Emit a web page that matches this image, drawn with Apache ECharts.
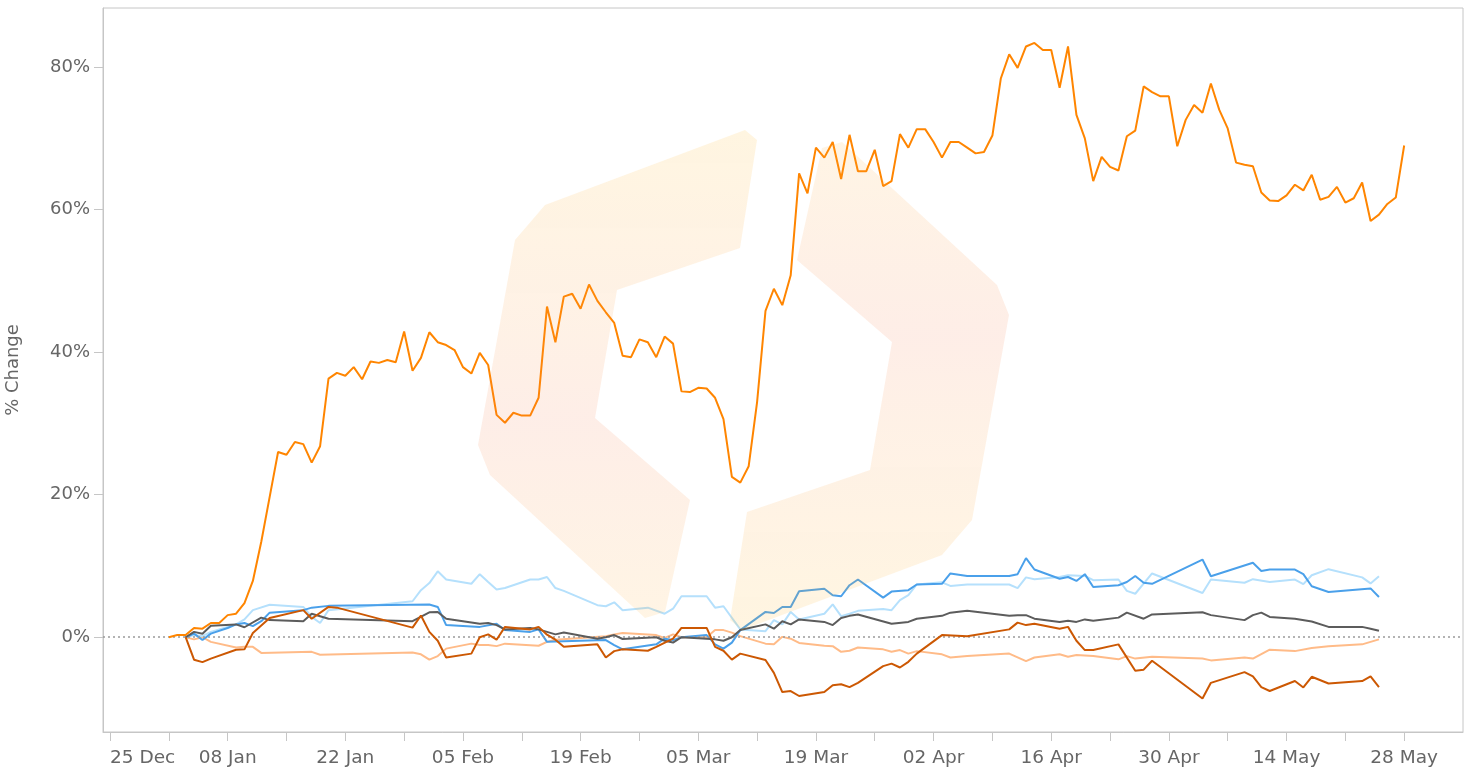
<!DOCTYPE html>
<html><head><meta charset="utf-8">
<script src="https://cdn.jsdelivr.net/npm/echarts@6/dist/echarts.min.js"></script>
<style>html,body{margin:0;padding:0;background:#fff}#c{width:1482px;height:769px}</style>
</head><body><div id="c"></div><script>
// ---------- DATA ----------
const xTickDates = ['2017-12-25','2018-01-01','2018-01-08','2018-01-15','2018-01-22','2018-01-29','2018-02-05','2018-02-12','2018-02-19','2018-02-26','2018-03-05','2018-03-12','2018-03-19','2018-03-26','2018-04-02','2018-04-09','2018-04-16','2018-04-23','2018-04-30','2018-05-07','2018-05-14','2018-05-21','2018-05-28'];
const xLabelDates = ['2017-12-25','2018-01-08','2018-01-22','2018-02-05','2018-02-19','2018-03-05','2018-03-19','2018-04-02','2018-04-16','2018-04-30','2018-05-14','2018-05-28'];
const monthNames = ['Jan','Feb','Mar','Apr','May','Jun','Jul','Aug','Sep','Oct','Nov','Dec'];
const yTickValues = [0, 20, 40, 60, 80];
const yAxisName = '% Change';

// daily series, starting 2018-01-01
const orangeStart = '2018-01-01';
const orangeValues = [0.0,0.3,0.3,1.3,1.2,2.0,2.0,3.1,3.3,4.8,7.9,13.4,19.7,26.0,25.6,27.4,27.1,24.5,26.8,36.3,
  37.1,36.7,37.9,36.2,38.7,38.5,38.9,38.6,42.9,37.4,39.2,42.8,41.4,41.0,40.3,37.9,37.0,39.9,38.2,31.2,
  30.1,31.5,31.1,31.1,33.6,46.4,41.4,47.8,48.2,46.1,49.5,47.2,45.6,44.1,39.5,39.3,41.8,41.4,39.3,42.2,
  41.2,34.5,34.4,35.0,34.9,33.6,30.6,22.5,21.7,24.0,33.0,45.8,48.9,46.6,50.8,65.1,62.3,68.7,67.3,69.5,
  64.3,70.5,65.4,65.4,68.4,63.3,64.0,70.6,68.7,71.3,71.3,69.5,67.3,69.5,69.5,68.7,67.9,68.1,70.4,78.4,
  81.8,79.9,82.9,83.4,82.4,82.4,77.1,82.9,73.3,70.0,64.0,67.4,66.0,65.5,70.3,71.1,77.3,76.5,75.9,75.9,
  68.9,72.6,74.7,73.6,77.7,74.0,71.4,66.6,66.3,66.1,62.4,61.3,61.2,62.0,63.5,62.7,64.9,61.4,61.8,63.2,
  61.0,61.6,63.8,58.4,59.3,60.8,61.7,69.0];

const grayData = [['2018-01-03',0],['2018-01-04',0.75],['2018-01-05',0.5],['2018-01-06',1.6],['2018-01-09',1.8],['2018-01-10',1.4],['2018-01-12',2.75],['2018-01-13',2.4],['2018-01-17',2.25],['2018-01-18',3.3],
  ['2018-01-20',2.6],['2018-01-30',2.25],['2018-02-01',3.5],['2018-02-02',3.55],['2018-02-03',2.6],['2018-02-07',1.9],['2018-02-08',2.0],['2018-02-09',1.7],['2018-02-10',1.1],['2018-02-13',1.3],
  ['2018-02-14',1.1],['2018-02-16',0.4],['2018-02-17',0.65],['2018-02-21',-0.2],['2018-02-22',0],['2018-02-23',0.3],['2018-02-24',-0.25],['2018-02-28',0],['2018-03-01',-0.5],['2018-03-02',-0.75],
  ['2018-03-03',0],['2018-03-07',-0.3],['2018-03-08',-0.5],['2018-03-09',0],['2018-03-10',1.0],['2018-03-13',1.8],['2018-03-14',1.2],['2018-03-15',2.25],['2018-03-16',1.8],['2018-03-17',2.5],
  ['2018-03-20',2.15],['2018-03-21',1.7],['2018-03-22',2.7],['2018-03-23',3.0],['2018-03-24',3.2],['2018-03-28',1.9],['2018-03-30',2.15],['2018-03-31',2.6],['2018-04-03',3.0],['2018-04-04',3.45],
  ['2018-04-06',3.7],['2018-04-11',3.0],['2018-04-12',3.1],['2018-04-13',3.1],['2018-04-14',2.6],['2018-04-17',2.15],['2018-04-18',2.3],['2018-04-19',2.15],['2018-04-20',2.5],['2018-04-21',2.3],
  ['2018-04-24',2.75],['2018-04-25',3.45],['2018-04-27',2.6],['2018-04-28',3.2],['2018-05-04',3.5],['2018-05-05',3.1],['2018-05-09',2.4],['2018-05-10',3.1],['2018-05-11',3.45],['2018-05-12',2.85],
  ['2018-05-15',2.6],['2018-05-17',2.2],['2018-05-19',1.45],['2018-05-23',1.45],['2018-05-24',1.2],['2018-05-25',0.9]];

const blueData = [['2018-01-03',0],['2018-01-04',0.5],['2018-01-05',-0.4],['2018-01-06',0.5],['2018-01-08',1.3],['2018-01-09',1.8],['2018-01-10',2.0],['2018-01-11',1.55],['2018-01-12',2.25],['2018-01-13',3.45],
  ['2018-01-17',3.8],['2018-01-18',4.15],['2018-01-20',4.4],['2018-02-01',4.6],['2018-02-02',4.25],['2018-02-03',1.7],['2018-02-07',1.45],['2018-02-09',1.9],['2018-02-10',1.0],['2018-02-13',0.75],
  ['2018-02-14',1.1],['2018-02-15',-0.65],['2018-02-22',-0.4],['2018-02-23',-1.1],['2018-02-24',-1.7],['2018-02-28',-1.0],['2018-03-01',-0.2],['2018-03-02',-0.4],['2018-03-03',0],['2018-03-06',0.3],
  ['2018-03-07',-1.0],['2018-03-08',-1.6],['2018-03-09',-0.75],['2018-03-10',1.0],['2018-03-13',3.55],['2018-03-14',3.4],['2018-03-15',4.25],['2018-03-16',4.25],['2018-03-17',6.45],['2018-03-20',6.8],
  ['2018-03-21',5.9],['2018-03-22',5.75],['2018-03-23',7.3],['2018-03-24',8.1],['2018-03-27',5.55],['2018-03-28',6.4],['2018-03-30',6.6],['2018-03-31',7.4],['2018-04-03',7.5],['2018-04-04',8.95],
  ['2018-04-06',8.6],['2018-04-11',8.6],['2018-04-12',8.85],['2018-04-13',11.1],['2018-04-14',9.5],['2018-04-17',8.2],['2018-04-18',8.45],['2018-04-19',7.9],['2018-04-20',8.85],['2018-04-21',7.05],
  ['2018-04-24',7.3],['2018-04-25',7.75],['2018-04-26',8.6],['2018-04-27',7.65],['2018-04-28',7.5],['2018-05-04',10.9],['2018-05-05',8.55],['2018-05-10',10.45],['2018-05-11',9.3],['2018-05-12',9.5],
  ['2018-05-15',9.5],['2018-05-16',8.85],['2018-05-17',7.15],['2018-05-19',6.35],['2018-05-24',6.85],['2018-05-25',5.65]];

const lightBlueData = [['2018-01-03',0],['2018-01-04',0.3],['2018-01-05',0.15],['2018-01-06',0.75],['2018-01-09',1.8],['2018-01-10',2.5],['2018-01-11',3.8],['2018-01-13',4.55],['2018-01-17',4.25],['2018-01-18',2.85],
  ['2018-01-19',2.0],['2018-01-20',3.8],['2018-01-30',5.05],['2018-01-31',6.6],['2018-02-01',7.6],['2018-02-02',9.25],['2018-02-03',8.1],['2018-02-06',7.5],['2018-02-07',8.85],['2018-02-08',7.75],
  ['2018-02-09',6.7],['2018-02-10',6.9],['2018-02-13',8.1],['2018-02-14',8.1],['2018-02-15',8.45],['2018-02-16',6.9],['2018-02-17',6.5],['2018-02-21',4.5],['2018-02-22',4.35],['2018-02-23',4.9],
  ['2018-02-24',3.8],['2018-02-27',4.15],['2018-03-01',3.3],['2018-03-02',4.0],['2018-03-03',5.75],['2018-03-06',5.75],['2018-03-07',4.15],['2018-03-08',4.35],['2018-03-10',1.1],['2018-03-13',0.85],
  ['2018-03-14',2.4],['2018-03-15',1.8],['2018-03-16',3.55],['2018-03-17',2.5],['2018-03-20',3.3],['2018-03-21',4.6],['2018-03-22',2.95],['2018-03-23',3.3],['2018-03-24',3.7],['2018-03-27',3.95],
  ['2018-03-28',3.8],['2018-03-29',5.2],['2018-03-30',5.9],['2018-03-31',7.4],['2018-04-03',7.7],['2018-04-04',7.2],['2018-04-06',7.4],['2018-04-11',7.4],['2018-04-12',6.9],['2018-04-13',8.4],
  ['2018-04-14',8.15],['2018-04-17',8.45],['2018-04-18',8.7],['2018-04-20',8.6],['2018-04-21',8.0],['2018-04-24',8.1],['2018-04-25',6.5],['2018-04-26',6.1],['2018-04-28',8.95],['2018-05-04',6.2],
  ['2018-05-05',8.1],['2018-05-09',7.65],['2018-05-10',8.15],['2018-05-12',7.75],['2018-05-15',8.1],['2018-05-16',7.45],['2018-05-17',8.7],['2018-05-19',9.55],['2018-05-23',8.4],['2018-05-24',7.55],
  ['2018-05-25',8.55]];

const brownData = [['2018-01-03',0],['2018-01-04',-3.15],['2018-01-05',-3.5],['2018-01-06',-3.0],['2018-01-09',-1.75],['2018-01-10',-1.7],['2018-01-11',0.6],['2018-01-13',2.7],['2018-01-17',3.8],['2018-01-18',2.6],
  ['2018-01-20',4.25],['2018-01-21',4.15],['2018-01-30',1.35],['2018-01-31',3.05],['2018-02-01',0.75],['2018-02-02',-0.5],['2018-02-03',-2.85],['2018-02-06',-2.3],['2018-02-07',0],['2018-02-08',0.4],
  ['2018-02-09',-0.35],['2018-02-10',1.45],['2018-02-13',1.1],['2018-02-14',1.45],['2018-02-15',0.35],['2018-02-16',-0.35],['2018-02-17',-1.35],['2018-02-21',-1.0],['2018-02-22',-2.85],['2018-02-23',-1.95],
  ['2018-02-24',-1.7],['2018-02-27',-1.9],['2018-02-28',-1.35],['2018-03-02',-0.2],['2018-03-03',1.3],['2018-03-06',1.3],['2018-03-07',-1.35],['2018-03-08',-1.9],['2018-03-09',-3.15],['2018-03-10',-2.3],
  ['2018-03-13',-3.2],['2018-03-14',-5.0],['2018-03-15',-7.7],['2018-03-16',-7.55],['2018-03-17',-8.25],['2018-03-20',-7.7],['2018-03-21',-6.75],['2018-03-22',-6.6],['2018-03-23',-7.0],['2018-03-24',-6.4],
  ['2018-03-27',-4.05],['2018-03-28',-3.7],['2018-03-29',-4.25],['2018-03-30',-3.45],['2018-03-31',-2.3],['2018-04-03',0.3],['2018-04-06',0.15],['2018-04-11',1.1],['2018-04-12',2.05],['2018-04-13',1.7],
  ['2018-04-14',1.9],['2018-04-17',1.2],['2018-04-18',1.45],['2018-04-19',-0.5],['2018-04-20',-1.8],['2018-04-21',-1.8],['2018-04-24',-1.0],['2018-04-26',-4.7],['2018-04-27',-4.55],['2018-04-28',-3.3],
  ['2018-05-04',-8.6],['2018-05-05',-6.4],['2018-05-09',-4.9],['2018-05-10',-5.5],['2018-05-11',-7.0],['2018-05-12',-7.55],['2018-05-15',-6.15],['2018-05-16',-7.05],['2018-05-17',-5.55],['2018-05-19',-6.5],
  ['2018-05-23',-6.15],['2018-05-24',-5.5],['2018-05-25',-7.0]];

const lightOrangeData = [['2018-01-03',0],['2018-01-04',-0.3],['2018-01-05',0],['2018-01-06',-0.65],['2018-01-09',-1.45],['2018-01-10',-1.35],['2018-01-11',-1.35],['2018-01-12',-2.2],['2018-01-18',-2.05],['2018-01-19',-2.45],
  ['2018-01-30',-2.15],['2018-01-31',-2.4],['2018-02-01',-3.15],['2018-02-02',-2.65],['2018-02-03',-1.6],['2018-02-06',-0.9],['2018-02-07',-1.1],['2018-02-08',-1.1],['2018-02-09',-1.25],['2018-02-10',-0.9],
  ['2018-02-14',-1.2],['2018-02-15',-0.65],['2018-02-16',-0.35],['2018-02-22',0.15],['2018-02-23',0.4],['2018-02-24',0.6],['2018-02-28',0.3],['2018-03-01',-0.1],['2018-03-02',0.4],['2018-03-03',0],
  ['2018-03-06',0],['2018-03-07',1.0],['2018-03-08',1.0],['2018-03-09',0.65],['2018-03-10',0.15],['2018-03-13',-0.9],['2018-03-14',-1.0],['2018-03-15',0.05],['2018-03-16',-0.2],['2018-03-17',-0.8],
  ['2018-03-20',-1.2],['2018-03-21',-1.25],['2018-03-22',-2.05],['2018-03-23',-1.9],['2018-03-24',-1.45],['2018-03-27',-1.7],['2018-03-28',-2.05],['2018-03-29',-1.8],['2018-03-30',-2.3],['2018-03-31',-1.95],
  ['2018-04-03',-2.4],['2018-04-04',-2.85],['2018-04-06',-2.65],['2018-04-11',-2.3],['2018-04-13',-3.35],['2018-04-14',-2.85],['2018-04-17',-2.4],['2018-04-18',-2.75],['2018-04-19',-2.5],['2018-04-21',-2.65],
  ['2018-04-24',-3.1],['2018-04-25',-2.65],['2018-04-26',-3.0],['2018-04-28',-2.75],['2018-05-04',-3.0],['2018-05-05',-3.25],['2018-05-09',-2.85],['2018-05-10',-3.0],['2018-05-12',-1.75],['2018-05-15',-1.95],
  ['2018-05-17',-1.5],['2018-05-19',-1.25],['2018-05-23',-1.0],['2018-05-25',-0.3]];

// ---------- helpers ----------
function ts(s){ const p = s.split('-').map(Number); return Date.UTC(p[0], p[1]-1, p[2]); }
function pad(n){ return n < 10 ? '0' + n : '' + n; }
const DAY = 86400000;
const orangeData = orangeValues.map((v, i) => [ts(orangeStart) + i * DAY, v]);
const toPts = arr => arr.map(d => [ts(d[0]), d[1]]);

// watermark (decorative logo), pixel shapes
const wmLeft = [[545,205],[745,130],[757,140],[740,248],[617,290],[595,418],[690,500],[665,612],[645,618],[490,475],[478,445],[515,240]];
const wmRight = wmLeft.map(p => [1487 - p[0], 760 - p[1]]);

const chart = echarts.init(document.getElementById('c'), null, {renderer: 'canvas'});
const FONT = 'DejaVu Sans';
const lineSeries = (name, data, color, z) => ({
  name, type: 'line', data, showSymbol: false, symbol: 'none', z,
  lineStyle: {color, width: 2}, itemStyle: {color}, emphasis: {disabled: true}
});
const wmFill = (y0, y1) => ({type: 'linear', x: 0, y: y0, x2: 0, y2: y1, colorStops: [
  {offset: 0, color: 'rgba(255,185,40,0.14)'}, {offset: 0.4, color: 'rgba(250,150,60,0.13)'},
  {offset: 0.6, color: 'rgba(245,120,70,0.13)'}, {offset: 1, color: 'rgba(255,175,50,0.13)'}]});

const option = {
  animation: false,
  textStyle: {fontFamily: FONT},
  grid: {left: 103, top: 8, right: 19, bottom: 37, outerBoundsMode: 'none', containLabel: false,
    show: true, borderColor: '#c6c6c6', borderWidth: 1, backgroundColor: 'transparent'},
  xAxis: {
    type: 'value',
    min: ts('2017-12-24') + 4 * 3600000,
    max: ts('2018-06-04'),
    splitLine: {show: false},
    axisLine: {show: true, onZero: false, lineStyle: {color: '#c6c6c6', width: 1}},
    axisTick: {show: true, length: 9, lineStyle: {color: '#c6c6c6'}, customValues: xTickDates.map(ts)},
    axisLabel: {
      customValues: xLabelDates.map(ts), color: '#666', fontSize: 18.5, fontFamily: FONT, margin: 17,
      alignMinLabel: 'left',
      formatter: v => { const d = new Date(v); return pad(d.getUTCDate()) + ' ' + monthNames[d.getUTCMonth()]; }
    }
  },
  yAxis: {
    type: 'value', min: -13.3, max: 88.3,
    name: yAxisName, nameLocation: 'middle', nameGap: 81,
    nameTextStyle: {color: '#666', fontSize: 18, fontFamily: FONT},
    splitLine: {show: false},
    axisLine: {show: true, lineStyle: {color: '#c6c6c6', width: 1}},
    axisTick: {show: true, length: 9, lineStyle: {color: '#c6c6c6'}, customValues: yTickValues},
    axisLabel: {customValues: yTickValues, color: '#666', fontSize: 18, fontFamily: FONT, margin: 13, formatter: '{value}%'}
  },
  graphic: {elements: [
    {type: 'polygon', shape: {points: wmLeft}, silent: true, z: 100, style: {fill: wmFill(0, 1)}},
    {type: 'polygon', shape: {points: wmRight}, silent: true, z: 100, style: {fill: wmFill(1, 0)}}
  ]},
  series: [
    Object.assign(lineSeries('Light orange', toPts(lightOrangeData), '#ffbb88', 2), {
      markLine: {silent: true, symbol: 'none', label: {show: false},
        lineStyle: {color: '#9a9a9a', type: [2, 3], width: 1.5}, data: [{yAxis: 0}]}
    }),
    lineSeries('Light blue', toPts(lightBlueData), '#b5e0fc', 3),
    lineSeries('Blue', toPts(blueData), '#4aa0ea', 4),
    lineSeries('Gray', toPts(grayData), '#5c5c5c', 5),
    lineSeries('Brown', toPts(brownData), '#cc5803', 6),
    lineSeries('Orange', orangeData, '#ff8500', 7)
  ]
};
chart.setOption(option);
</script></body></html>
